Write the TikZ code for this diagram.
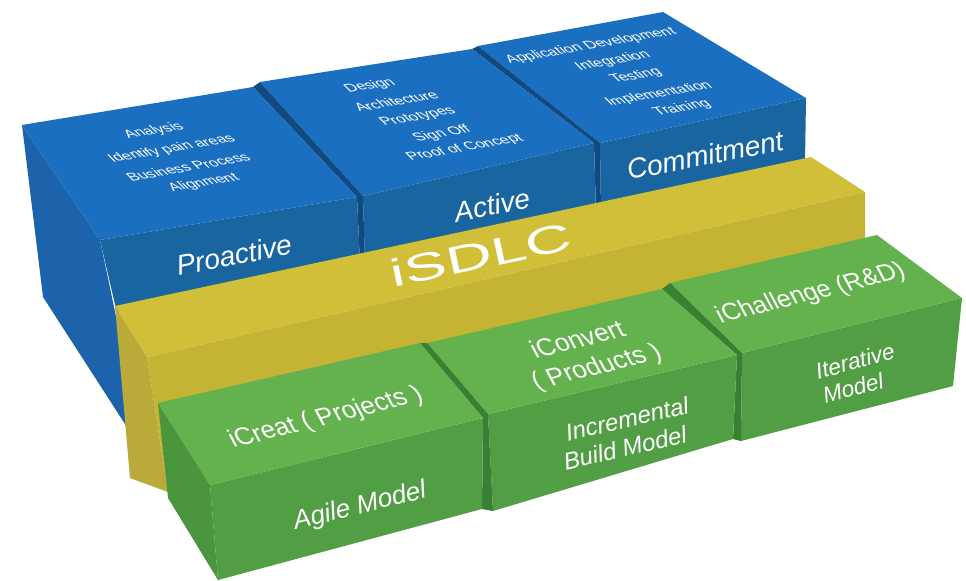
\documentclass[tikz,border=0pt]{standalone}
\usepackage{fontspec}
\setmainfont{Liberation Sans}[ItalicFont=Liberation Sans Italic]
\definecolor{bluetop}{RGB}{27,111,193}
\definecolor{bluefront}{RGB}{25,101,160}
\definecolor{blueleft}{RGB}{29,99,172}
\definecolor{bluegap}{RGB}{17,74,128}
\definecolor{yeltop}{RGB}{209,191,58}
\definecolor{yelfront}{RGB}{197,179,52}
\definecolor{yelleft}{RGB}{186,170,58}
\definecolor{grntop}{RGB}{99,178,77}
\definecolor{grnfront}{RGB}{81,158,68}
\definecolor{grnleft}{RGB}{74,149,62}
\definecolor{grngap}{RGB}{58,128,52}
\begin{document}
\begin{tikzpicture}[x=0.75pt,y=-0.75pt,
  btxt/.style={text=white, inner sep=0pt, font=\fontsize{11.5}{13}\selectfont, rotate=10, xslant=-0.7, yscale=0.8},
  bigtxt/.style={text=white, inner sep=0pt, font=\fontsize{21}{24}\selectfont\itshape, rotate=11},
  gtop/.style={text=white, inner sep=0pt, font=\fontsize{19}{22}\selectfont, rotate=14, xslant=-0.25},
  gfront/.style={text=white, inner sep=0pt, font=\fontsize{19}{22}\selectfont\itshape, rotate=13}]
\useasboundingbox (0,0) rectangle (966,581);
\fill[white] (0,0) rectangle (966,581);
% ---- blue block 3
\fill[bluefront] (600,143) -- (806,98) -- (805,163) -- (601,212) -- cycle;
\fill[bluetop] (478,46) -- (663,12) -- (806,98) -- (600,143) -- cycle;
\fill[bluegap] (472,49) -- (478,46) -- (600,143) -- (601,212) -- (596,212) -- (594,143) -- cycle;
% ---- blue block 2
\fill[bluefront] (363,196) -- (594,143) -- (596,214) -- (365,264) -- cycle;
\fill[bluetop] (260,82) -- (472,49) -- (594,143) -- (363,196) -- cycle;
\fill[bluegap] (253,87) -- (260,82) -- (363,196) -- (365,264) -- (360,264) -- (357,197) -- cycle;
% ---- blue block 1
\fill[blueleft] (22,125) -- (100,240) -- (145,455) -- (43,297) -- cycle;
\fill[bluefront] (100,240) -- (357,197) -- (360,264) -- (117,313) -- cycle;
\fill[bluetop] (22,125) -- (253,87) -- (357,197) -- (100,240) -- cycle;
% ---- yellow bar
\fill[yelleft] (115,306) -- (147,357) -- (168,492) -- (130,478) -- cycle;
\fill[yelfront] (147,357) -- (865,192) -- (865,240) -- (168,492) -- cycle;
\fill[yeltop] (115,306) -- (811,157) -- (865,192) -- (147,357) -- cycle;
% ---- green block 3
\fill[grnfront] (742,353) -- (962,298) -- (953,386) -- (741,441) -- cycle;
\fill[grntop] (670,283) -- (877,235) -- (962,298) -- (742,353) -- cycle;
\fill[grngap] (662,289) -- (670,283) -- (742,353) -- (741,441) -- (733,439) -- (737,355) -- cycle;
% ---- green block 2
\fill[grnfront] (488,414) -- (737,355) -- (733,439) -- (493,511) -- cycle;
\fill[grntop] (427,343) -- (662,289) -- (737,355) -- (488,414) -- cycle;
\fill[grngap] (420,343) -- (427,343) -- (488,414) -- (493,511) -- (482,509) -- (483,418) -- cycle;
% ---- green block 1
\fill[grnleft] (158,403) -- (210,485) -- (218,580) -- (168,498) -- cycle;
\fill[grnfront] (210,485) -- (483,418) -- (482,509) -- (218,580) -- cycle;
\fill[grntop] (158,403) -- (420,343) -- (483,418) -- (210,485) -- cycle;
% ---- texts on blue tops
\node[btxt] (a1) at (154,131) {Analysis};
\node[btxt] (a2) at (172,149) {Identify pain areas};
\node[btxt] (a3) at (188,167) {Business Process};
\node[btxt] (a4) at (204,183) {Alignment};
\node[btxt] (b1) at (370,86) {Design};
\node[btxt] (b2) at (396,101) {Architecture};
\node[btxt] (b3) at (418,117) {Prototypes};
\node[btxt] (b4) at (442,134) {Sign Off};
\node[btxt] (b5) at (465,148) {Proof of Concept};
\node[btxt] (c1) at (591,46) {Application Development};
\node[btxt] (c2) at (613,61) {Integration};
\node[btxt] (c3) at (636,76) {Testing};
\node[btxt] (c4) at (659,94) {Implementation};
\node[btxt] (c5) at (682,108) {Training};
% ---- big labels
\node[bigtxt] (pro) at (234,255) {Proactive};
\node[bigtxt] (act) at (492,205) {Active};
\node[bigtxt] (com) at (705,155) {Commitment};
\node[text=white, inner sep=0pt, font=\fontsize{29}{32}\selectfont, rotate=12, xscale=1.65] (isdlc) at (481,255) {iSDLC};
% ---- green labels
\node[gtop] (g1t) at (326,418) {iCreat ( Projects )};
\node[gfront, font=\fontsize{19.5}{22}\selectfont\itshape, rotate=1] (g1f) at (360,507) {Agile Model};
\node[gtop] (g2t1) at (577,339) {iConvert};
\node[gtop] (g2t2) at (597,368) {( Products )};
\node[gfront, font=\fontsize{18}{21}\selectfont\itshape] (g2f1) at (627,419) {Incremental};
\node[gfront, font=\fontsize{18}{21}\selectfont\itshape] (g2f2) at (625,448) {Build Model};
\node[gtop, font=\fontsize{18.5}{21}\selectfont] (g3t) at (811,294) {iChallenge (R\&D)};
\node[gfront, font=\fontsize{17}{20}\selectfont\itshape, rotate=2] (g3f1) at (855,361) {Iterative};
\node[gfront, font=\fontsize{17}{20}\selectfont\itshape, rotate=2] (g3f2) at (853,388) {Model};
\end{tikzpicture}
\end{document}
